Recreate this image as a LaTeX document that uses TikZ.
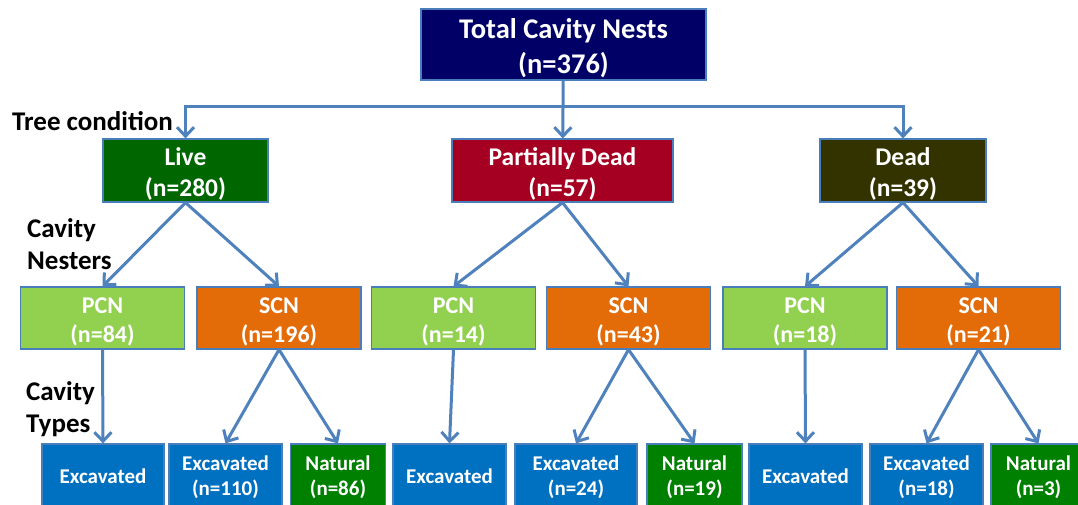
\documentclass[tikz,border=0pt]{standalone}
\usepackage{fontspec}
\setmainfont{Carlito}
\usepackage{xcolor}
\usepackage{tikz}
\usetikzlibrary{arrows.meta}

\definecolor{navy}{HTML}{000066}
\definecolor{livegreen}{HTML}{006600}
\definecolor{pdred}{HTML}{A50021}
\definecolor{deadolive}{HTML}{333300}
\definecolor{pcngreen}{HTML}{92D050}
\definecolor{scnorange}{HTML}{E36C09}
\definecolor{excblue}{HTML}{0070C0}
\definecolor{natgreen}{HTML}{008000}
\definecolor{arrowblue}{HTML}{4F81BD}
\definecolor{boxline}{HTML}{4A7EBB}

\begin{document}
\begin{tikzpicture}[x=1pt,y=-1pt]
                % text height is taken from the last line, it keeps the text a bit low in its box
                \tikzstyle{box}=[rectangle,draw=boxline,line width=1.2pt,text=white,align=center,inner sep=0pt,text depth=6pt]
                \tikzstyle{top box}=[box,fill=navy,minimum width=285pt,minimum height=71pt,text height=63pt,font=\fontsize{28.5}{34.6}\selectfont\bfseries]
                \tikzstyle{level 1 box}=[box,minimum height=61pt,text height=57pt,font=\fontsize{25.5}{30.5}\selectfont\bfseries]
                \tikzstyle{level 2 box}=[box,minimum width=164pt,minimum height=62pt,text height=55pt,font=\fontsize{24}{29}\selectfont\bfseries]
                \tikzstyle{pcn node}=[level 2 box,fill=pcngreen]
                \tikzstyle{scn node}=[level 2 box,fill=scnorange]
                \tikzstyle{level 3 box}=[box,minimum height=76pt,text height=32.8pt,font=\fontsize{21}{25}\selectfont\bfseries]
                \tikzstyle{one line}=[text height=8pt]
                \tikzstyle{excavated node}=[level 3 box,fill=excblue,minimum width=113pt]
                \tikzstyle{natural node}=[level 3 box,fill=natgreen,minimum width=95pt]
                \tikzstyle{level label}=[anchor=north west,align=left,inner sep=0pt,font=\fontsize{27}{32}\selectfont\bfseries]
                \tikzstyle{arrow}=[draw=arrowblue,line width=3pt,-{Straight Barb[length=9pt,width=17pt]}]
                \useasboundingbox (0,0) rectangle (1078,504);
                \clip (0,0) rectangle (1078,504);
                % root and tree condition
                \node(0)[top box] at (563.5,44.5) {Total Cavity Nests\\(n=376)};
                \node(0-1)[level 1 box,fill=livegreen,minimum width=165pt] at (185.5,170.5) {Live\\(n=280)};
                \node(0-2)[level 1 box,fill=pdred,minimum width=221pt] at (562.5,170.5) {Partially Dead\\(n=57)};
                \node(0-3)[level 1 box,fill=deadolive,minimum width=166pt] at (903,170.5) {Dead\\(n=39)};
                % cavity nesters
                \node(0-1-1)[pcn node] at (102.5,318) {PCN\\(n=84)};
                \node(0-1-2)[scn node] at (279,318) {SCN\\(n=196)};
                \node(0-2-1)[pcn node] at (453.5,318) {PCN\\(n=14)};
                \node(0-2-2)[scn node] at (628.5,318) {SCN\\(n=43)};
                \node(0-3-1)[pcn node] at (805,318) {PCN\\(n=18)};
                \node(0-3-2)[scn node] at (978.5,318) {SCN\\(n=21)};
                % cavity types
                \node(0-1-1-1)[excavated node,one line,minimum width=122pt] at (103,482) {Excavated};
                \node(0-1-2-1)[excavated node] at (225.5,482) {Excavated\\(n=110)};
                \node(0-1-2-2)[natural node] at (338,482) {Natural\\(n=86)};
                \node(0-2-1-1)[excavated node,one line] at (449.5,482) {Excavated};
                \node(0-2-2-1)[excavated node,minimum width=122pt] at (576,482) {Excavated\\(n=24)};
                \node(0-2-2-2)[natural node] at (694.5,482) {Natural\\(n=19)};
                \node(0-3-1-1)[excavated node,one line] at (805.5,482) {Excavated};
                \node(0-3-2-1)[excavated node] at (926.5,482) {Excavated\\(n=18)};
                \node(0-3-2-2)[natural node] at (1038.5,482) {Natural\\(n=3)};
                % row labels
                \node(tc)[level label] at (12,111) {Tree condition};
                \node(cn)[level label] at (27,218) {Cavity\\Nesters};
                \node(ct)[level label] at (26,381) {Cavity\\Types};
                % connectors
                \coordinate(bus) at (563,106);
                \draw[arrow] (0) -- (0-2);
                \draw[arrow] (bus) -| (0-1.north);
                \draw[arrow] (bus) -| (0-3.north);
                \draw[arrow] (0-1.south) -- (0-1-1.north);
                \draw[arrow] (0-1.south) -- (0-1-2.north);
                \draw[arrow] (0-2.south) -- (0-2-1.north);
                \draw[arrow] (0-2.south) -- (0-2-2.north);
                \draw[arrow] (0-3.south) -- (0-3-1.north);
                \draw[arrow] (0-3.south) -- (0-3-2.north);
                \draw[arrow] (0-1-1.south) -- (0-1-1-1.north);
                \draw[arrow] (0-1-2.south) -- (0-1-2-1.north);
                \draw[arrow] (0-1-2.south) -- (0-1-2-2.north);
                \draw[arrow] (0-2-1.south) -- (0-2-1-1.north);
                \draw[arrow] (0-2-2.south) -- (0-2-2-1.north);
                \draw[arrow] (0-2-2.south) -- (0-2-2-2.north);
                \draw[arrow] (0-3-1.south) -- (0-3-1-1.north);
                \draw[arrow] (0-3-2.south) -- (0-3-2-1.north);
                \draw[arrow] (0-3-2.south) -- (0-3-2-2.north);
            \end{tikzpicture}
\end{document}
